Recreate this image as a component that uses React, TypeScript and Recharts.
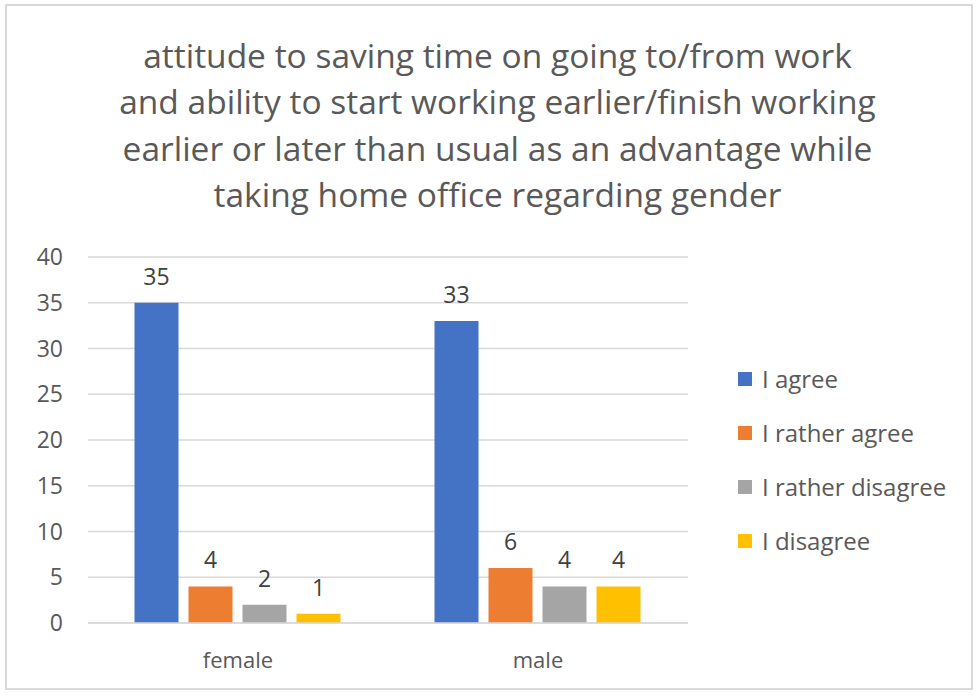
import React from "react";
import { BarChart, Bar, XAxis, YAxis, CartesianGrid, LabelList } from "recharts";

const categories = ["female", "male"];
const seriesNames = ["I agree", "I rather agree", "I rather disagree", "I disagree"];
const agree = [35, 33];
const ratherAgree = [4, 6];
const ratherDisagree = [2, 4];
const disagree = [1, 4];
const yTicks = [0, 5, 10, 15, 20, 25, 30, 35, 40];
const colors = ["#4472C4", "#ED7D31", "#A5A5A5", "#FFC000"];
const titleLines = [
  "attitude to saving time on going to/from work",
  "and ability to start working earlier/finish working",
  "earlier or later than usual as an advantage while",
  "taking home office regarding gender",
];

const keys = ["s0", "s1", "s2", "s3"];
const data = categories.map((c, i) => ({
  name: c,
  s0: agree[i],
  s1: ratherAgree[i],
  s2: ratherDisagree[i],
  s3: disagree[i],
}));

const FONT = "'Open Sans', sans-serif";

export default function App() {
  return (
    <div style={{ position: "absolute", left: 0, top: 0, width: 979, height: 695, background: "#fff", fontFamily: FONT }}>
      <div style={{ position: "absolute", left: 5, top: 4, width: 968, height: 686, border: "2px solid #d9d9d9", boxSizing: "border-box" }} />
      <div style={{ position: "absolute", left: 0, top: 32, width: 995, textAlign: "center", fontSize: 33.5, lineHeight: "46.3px", color: "#595959", whiteSpace: "nowrap" }}>
        {titleLines.map((l, i) => (
          <div key={i}>{l}</div>
        ))}
      </div>
      <div style={{ position: "absolute", left: 0, top: 0 }}>
        <BarChart
          width={979}
          height={695}
          data={data}
          margin={{ top: 257, right: 291, bottom: 42, left: 0 }}
          barCategoryGap="15.5%"
          barGap={10}
        >
          <CartesianGrid vertical={false} stroke="#d9d9d9" strokeWidth={1.5} />
          <XAxis
            dataKey="name"
            tickLine={false}
            axisLine={{ stroke: "#d9d9d9", strokeWidth: 1.5 }}
            tick={{ fill: "#595959", fontSize: 22, fontFamily: FONT }}
            tickMargin={23}
          />
          <YAxis
            width={88}
            domain={[0, 40]}
            ticks={yTicks}
            tickLine={false}
            axisLine={false}
            tick={{ fill: "#595959", fontSize: 23, fontFamily: FONT }}
            tickMargin={19}
            interval={0}
          />
          {keys.map((k, i) => (
            <Bar key={k} dataKey={k} name={seriesNames[i]} fill={colors[i]} isAnimationActive={false}>
              <LabelList dataKey={k} position="top" offset={18} fill="#404040" fontSize={23} fontFamily={FONT} />
            </Bar>
          ))}
        </BarChart>
      </div>
      <div style={{ position: "absolute", left: 738, top: 352 }}>
        {seriesNames.map((n, i) => (
          <div key={n} style={{ display: "flex", alignItems: "center", height: 54, fontSize: 24, color: "#595959" }}>
            <div style={{ width: 14, height: 14, background: colors[i], marginRight: 10, flex: "none" }} />
            <span style={{ lineHeight: "30px", whiteSpace: "nowrap" }}>{n}</span>
          </div>
        ))}
      </div>
    </div>
  );
}
